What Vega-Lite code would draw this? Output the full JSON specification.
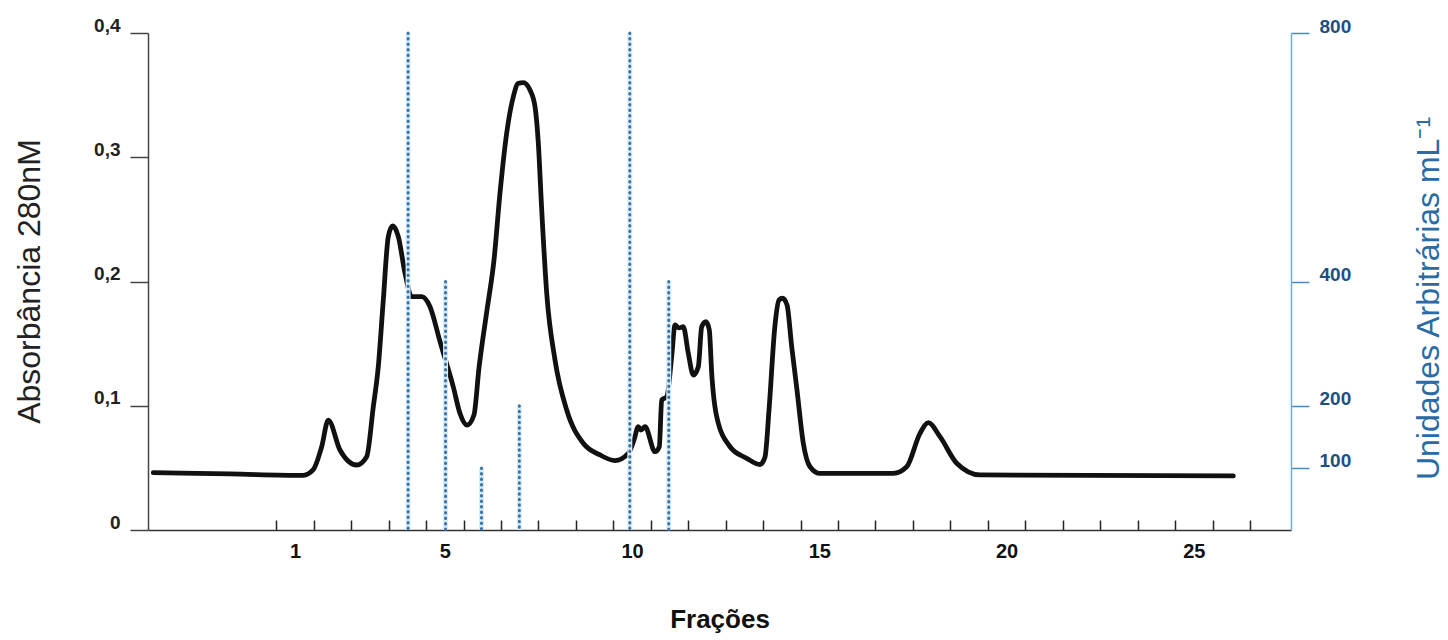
{
  "$schema": "https://vega.github.io/schema/vega-lite/v6.json",
  "width": 1143,
  "height": 497,
  "autosize": {"type": "none"},
  "padding": {"left": 148, "top": 33, "right": 157, "bottom": 110},
  "background": "white",
  "config": {"view": {"stroke": null}, "font": "Liberation Sans"},
  "datasets": {
    "curva": [
      {"fracao": -2.784, "abs": 0.0461},
      {"fracao": -0.735, "abs": 0.0451},
      {"fracao": 1.221, "abs": 0.0440},
      {"fracao": 1.481, "abs": 0.0483},
      {"fracao": 1.713, "abs": 0.0670},
      {"fracao": 1.889, "abs": 0.0885},
      {"fracao": 2.201, "abs": 0.0644},
      {"fracao": 2.648, "abs": 0.0523},
      {"fracao": 2.914, "abs": 0.0590},
      {"fracao": 3.091, "abs": 0.0992},
      {"fracao": 3.224, "abs": 0.1314},
      {"fracao": 3.358, "abs": 0.1851},
      {"fracao": 3.491, "abs": 0.2361},
      {"fracao": 3.609, "abs": 0.2447},
      {"fracao": 3.759, "abs": 0.2361},
      {"fracao": 3.938, "abs": 0.2066},
      {"fracao": 4.117, "abs": 0.1878},
      {"fracao": 4.383, "abs": 0.1878},
      {"fracao": 4.605, "abs": 0.1797},
      {"fracao": 4.872, "abs": 0.1517},
      {"fracao": 5.226, "abs": 0.1153},
      {"fracao": 5.405, "abs": 0.0939},
      {"fracao": 5.592, "abs": 0.0845},
      {"fracao": 5.779, "abs": 0.0926},
      {"fracao": 5.913, "abs": 0.1304},
      {"fracao": 6.127, "abs": 0.1771},
      {"fracao": 6.314, "abs": 0.2173},
      {"fracao": 6.474, "abs": 0.2712},
      {"fracao": 6.653, "abs": 0.3195},
      {"fracao": 6.829, "abs": 0.3487},
      {"fracao": 6.963, "abs": 0.3595},
      {"fracao": 7.096, "abs": 0.3600},
      {"fracao": 7.275, "abs": 0.3541},
      {"fracao": 7.409, "abs": 0.3407},
      {"fracao": 7.497, "abs": 0.3115},
      {"fracao": 7.588, "abs": 0.2575},
      {"fracao": 7.721, "abs": 0.1907},
      {"fracao": 7.943, "abs": 0.1368},
      {"fracao": 8.255, "abs": 0.0966},
      {"fracao": 8.698, "abs": 0.0698},
      {"fracao": 9.144, "abs": 0.0604},
      {"fracao": 9.544, "abs": 0.0559},
      {"fracao": 9.900, "abs": 0.0617},
      {"fracao": 10.052, "abs": 0.0724},
      {"fracao": 10.167, "abs": 0.0831},
      {"fracao": 10.239, "abs": 0.0805},
      {"fracao": 10.346, "abs": 0.0831},
      {"fracao": 10.613, "abs": 0.0630},
      {"fracao": 10.728, "abs": 0.0670},
      {"fracao": 10.792, "abs": 0.1046},
      {"fracao": 10.926, "abs": 0.1073},
      {"fracao": 11.058, "abs": 0.1395},
      {"fracao": 11.147, "abs": 0.1650},
      {"fracao": 11.253, "abs": 0.1626},
      {"fracao": 11.368, "abs": 0.1636},
      {"fracao": 11.502, "abs": 0.1422},
      {"fracao": 11.636, "abs": 0.1247},
      {"fracao": 11.769, "abs": 0.1314},
      {"fracao": 11.860, "abs": 0.1636},
      {"fracao": 11.974, "abs": 0.1676},
      {"fracao": 12.063, "abs": 0.1610},
      {"fracao": 12.127, "abs": 0.1261},
      {"fracao": 12.261, "abs": 0.0912},
      {"fracao": 12.616, "abs": 0.0670},
      {"fracao": 13.061, "abs": 0.0577},
      {"fracao": 13.417, "abs": 0.0527},
      {"fracao": 13.550, "abs": 0.0588},
      {"fracao": 13.657, "abs": 0.0966},
      {"fracao": 13.817, "abs": 0.1650},
      {"fracao": 13.924, "abs": 0.1851},
      {"fracao": 14.017, "abs": 0.1865},
      {"fracao": 14.138, "abs": 0.1811},
      {"fracao": 14.263, "abs": 0.1475},
      {"fracao": 14.404, "abs": 0.1127},
      {"fracao": 14.573, "abs": 0.0698},
      {"fracao": 14.752, "abs": 0.0509},
      {"fracao": 15.018, "abs": 0.0455},
      {"fracao": 16.976, "abs": 0.0456},
      {"fracao": 17.334, "abs": 0.0509},
      {"fracao": 17.689, "abs": 0.0778},
      {"fracao": 17.911, "abs": 0.0864},
      {"fracao": 18.223, "abs": 0.0751},
      {"fracao": 18.669, "abs": 0.0537},
      {"fracao": 19.291, "abs": 0.0443},
      {"fracao": 26.055, "abs": 0.0435}
    ],
    "atividade": [
      {"fracao": 4.02, "unidades": 800},
      {"fracao": 5.02, "unidades": 400},
      {"fracao": 5.98, "unidades": 100},
      {"fracao": 6.99, "unidades": 200},
      {"fracao": 9.94, "unidades": 800},
      {"fracao": 10.98, "unidades": 400}
    ]
  },
  "layer": [
    {
      "data": {"name": "curva"},
      "mark": {"type": "line", "color": "#111111", "strokeWidth": 4.8, "interpolate": "monotone", "strokeCap": "round", "strokeJoin": "round"},
      "encoding": {
        "x": {
          "field": "fracao",
          "type": "quantitative",
          "scale": {"domain": [-2.925, 27.595], "nice": false, "zero": false},
          "axis": {
            "values": [0.5, 1, 1.5, 2.5, 3.5, 4.5, 5, 5.5, 6.5, 7.5, 8.5, 9.5, 10, 10.5, 11.5, 12.5, 13.5, 14.5, 15, 15.5, 16.5, 17.5, 18.5, 19.5, 20, 20.5, 21.5, 22.5, 23.5, 24.5, 25, 25.5, 26.5],
            "tickCount": 200,
            "labelExpr": "indexof([1, 5, 10, 15, 20, 25], datum.value) >= 0 ? datum.value : ''",
            "tickOpacity": {"condition": {"test": "datum.value % 1 == 0", "value": 0}, "value": 1},
            "tickSize": -10,
            "tickWidth": 1.5,
            "tickColor": "#222222",
            "domainColor": "#333333",
            "domainWidth": 1.5,
            "labelPadding": 21,
            "labelFontSize": 20,
            "labelFontWeight": "bold",
            "labelColor": "#111111",
            "labelFlush": false,
            "labelOverlap": false,
            "grid": false,
            "title": "Frações",
            "titleFontSize": 26,
            "titleFontWeight": "bold",
            "titleColor": "#111111",
            "titleBaseline": "middle",
            "titleY": 89
          }
        },
        "y": {
          "field": "abs",
          "type": "quantitative",
          "scale": {"domain": [0, 0.4], "nice": false},
          "axis": {
            "values": [0, 0.1, 0.2, 0.3, 0.4],
            "labelExpr": "datum.value == 0 ? '0' : replace(format(datum.value, '.1f'), '.', ',')",
            "tickSize": 18,
            "tickWidth": 1.5,
            "tickColor": "#444444",
            "domainColor": "#444444",
            "domainWidth": 1.5,
            "labelFontSize": 19,
            "labelFontWeight": "bold",
            "labelColor": "#222222",
            "labelBaseline": "alphabetic",
            "labelOffset": -2,
            "labelPadding": 10,
            "grid": false,
            "title": "Absorbância 280nM",
            "titleFontSize": 32,
            "titleFontWeight": "normal",
            "titleColor": "#222222",
            "titleAngle": 270,
            "titleBaseline": "middle",
            "titleAlign": "center",
            "titleX": -119,
            "titleY": 248
          }
        }
      }
    },
    {
      "data": {"name": "atividade"},
      "layer": [
        {
          "mark": {"type": "rule", "color": "#d6ecfa", "strokeWidth": 5},
          "encoding": {
            "x": {"field": "fracao", "type": "quantitative"},
            "y": {
              "field": "unidades",
              "type": "quantitative",
              "scale": {"domain": [0, 800], "nice": false},
              "axis": {
                "orient": "right",
                "values": [100, 200, 400, 800],
                "tickSize": 18,
                "tickWidth": 1.5,
                "tickColor": "#4a8cc2",
                "domainColor": "#6db0e0",
                "domainWidth": 1.5,
                "labelFontSize": 19,
                "labelFontWeight": "bold",
                "labelColor": "#1f4f7f",
                "labelBaseline": "alphabetic",
                "labelOffset": -1,
                "labelPadding": 10,
                "grid": false,
                "title": "Unidades Arbitrárias mL⁻¹",
                "titleFontSize": 32,
                "titleFontWeight": "normal",
                "titleColor": "#2a6aa5",
                "titleAngle": 270,
                "titleBaseline": "middle",
                "titleAlign": "center",
                "titleX": 137,
                "titleY": 265
              }
            },
            "y2": {"datum": 0}
          }
        },
        {
          "mark": {"type": "rule", "color": "#3b72a4", "strokeWidth": 3, "strokeDash": [0.5, 5], "strokeCap": "round"},
          "encoding": {
            "x": {"field": "fracao", "type": "quantitative"},
            "y": {"field": "unidades", "type": "quantitative"},
            "y2": {"datum": 0}
          }
        }
      ]
    }
  ],
  "resolve": {"scale": {"y": "independent"}}
}
